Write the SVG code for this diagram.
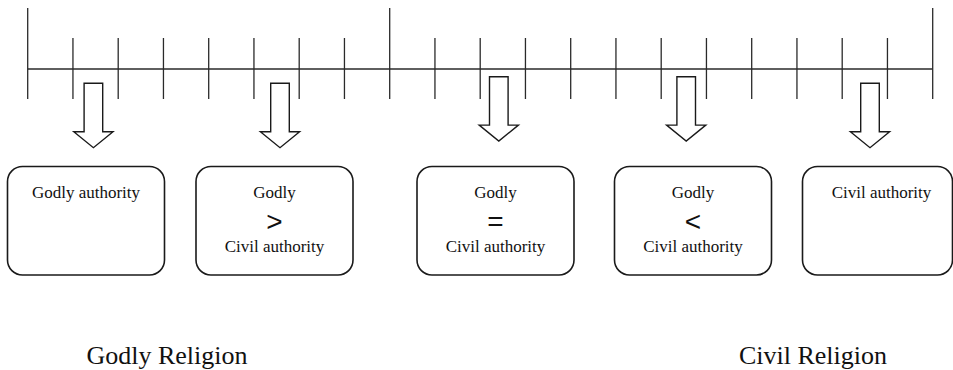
<svg xmlns="http://www.w3.org/2000/svg" width="953" height="370" viewBox="0 0 953 370">
<style>
.tick{stroke:#2a2a2a;stroke-width:1.3;fill:none}
.box{fill:#fff;stroke:#1a1a1a;stroke-width:1.6}
.arrow{fill:#fff;stroke:#1a1a1a;stroke-width:1.4;stroke-linejoin:miter}
.t{font-family:"Liberation Serif","Times New Roman",serif;font-size:17px;fill:#111;text-anchor:middle}
.sym{font-family:"Liberation Sans",Arial,sans-serif;font-size:28px;fill:#111;text-anchor:middle}
.big{font-family:"Liberation Serif","Times New Roman",serif;font-size:26px;fill:#111;text-anchor:middle}
</style>
<defs>
<path id="arr" d="M-9.3,0 H9.3 V48.4 H19.6 L0,64.4 L-19.6,48.4 H-9.3 Z"/>
</defs>
<g id="timeline" class="tick">
<line x1="27.7" y1="69" x2="932.7" y2="69"/>
<line x1="27.7" y1="8" x2="27.7" y2="99"/>
<line x1="72.95" y1="38" x2="72.95" y2="99"/>
<line x1="118.2" y1="38" x2="118.2" y2="99"/>
<line x1="163.45" y1="38" x2="163.45" y2="99"/>
<line x1="208.7" y1="38" x2="208.7" y2="99"/>
<line x1="253.95" y1="38" x2="253.95" y2="99"/>
<line x1="299.2" y1="38" x2="299.2" y2="99"/>
<line x1="344.45" y1="38" x2="344.45" y2="99"/>
<line x1="389.7" y1="8" x2="389.7" y2="99"/>
<line x1="434.95" y1="38" x2="434.95" y2="99"/>
<line x1="480.2" y1="38" x2="480.2" y2="99"/>
<line x1="525.45" y1="38" x2="525.45" y2="99"/>
<line x1="570.7" y1="38" x2="570.7" y2="99"/>
<line x1="615.95" y1="38" x2="615.95" y2="99"/>
<line x1="661.2" y1="38" x2="661.2" y2="99"/>
<line x1="706.45" y1="38" x2="706.45" y2="99"/>
<line x1="751.7" y1="38" x2="751.7" y2="99"/>
<line x1="796.95" y1="38" x2="796.95" y2="99"/>
<line x1="842.2" y1="38" x2="842.2" y2="99"/>
<line x1="887.45" y1="38" x2="887.45" y2="99"/>
<line x1="932.7" y1="8" x2="932.7" y2="99"/>
</g>
<g id="connectors" class="arrow">
<use href="#arr" transform="translate(93.4,83.3)"/>
<use href="#arr" transform="translate(280,83.3)"/>
<use href="#arr" transform="translate(498.8,76.7)"/>
<use href="#arr" transform="translate(686.2,76.7)"/>
<use href="#arr" transform="translate(870,83.3)"/>
</g>
<g id="node1">
<rect class="box" x="7.5" y="166.5" width="157" height="108.5" rx="15"/>
<text class="t" x="86" y="197.5">Godly authority</text>
</g>
<g id="node2">
<rect class="box" x="196" y="166.5" width="157" height="108.5" rx="15"/>
<text class="t" x="274.5" y="197.5">Godly</text>
<text class="sym" x="274.5" y="231">&gt;</text>
<text class="t" x="274.5" y="251.7">Civil authority</text>
</g>
<g id="node3">
<rect class="box" x="417" y="166.5" width="157" height="108.5" rx="15"/>
<text class="t" x="495.5" y="197.5">Godly</text>
<text class="sym" x="495.5" y="231">=</text>
<text class="t" x="495.5" y="251.7">Civil authority</text>
</g>
<g id="node4">
<rect class="box" x="614.5" y="166.5" width="157" height="108.5" rx="15"/>
<text class="t" x="693" y="197.5">Godly</text>
<text class="sym" x="693" y="231">&lt;</text>
<text class="t" x="693" y="251.7">Civil authority</text>
</g>
<g id="node5">
<rect class="box" x="802.5" y="166.5" width="150" height="108.5" rx="15"/>
<text class="t" x="881.5" y="197.5">Civil authority</text>
</g>
<g id="labels">
<text class="big" x="167" y="364">Godly Religion</text>
<text class="big" x="813" y="364">Civil Religion</text>
</g>
</svg>
